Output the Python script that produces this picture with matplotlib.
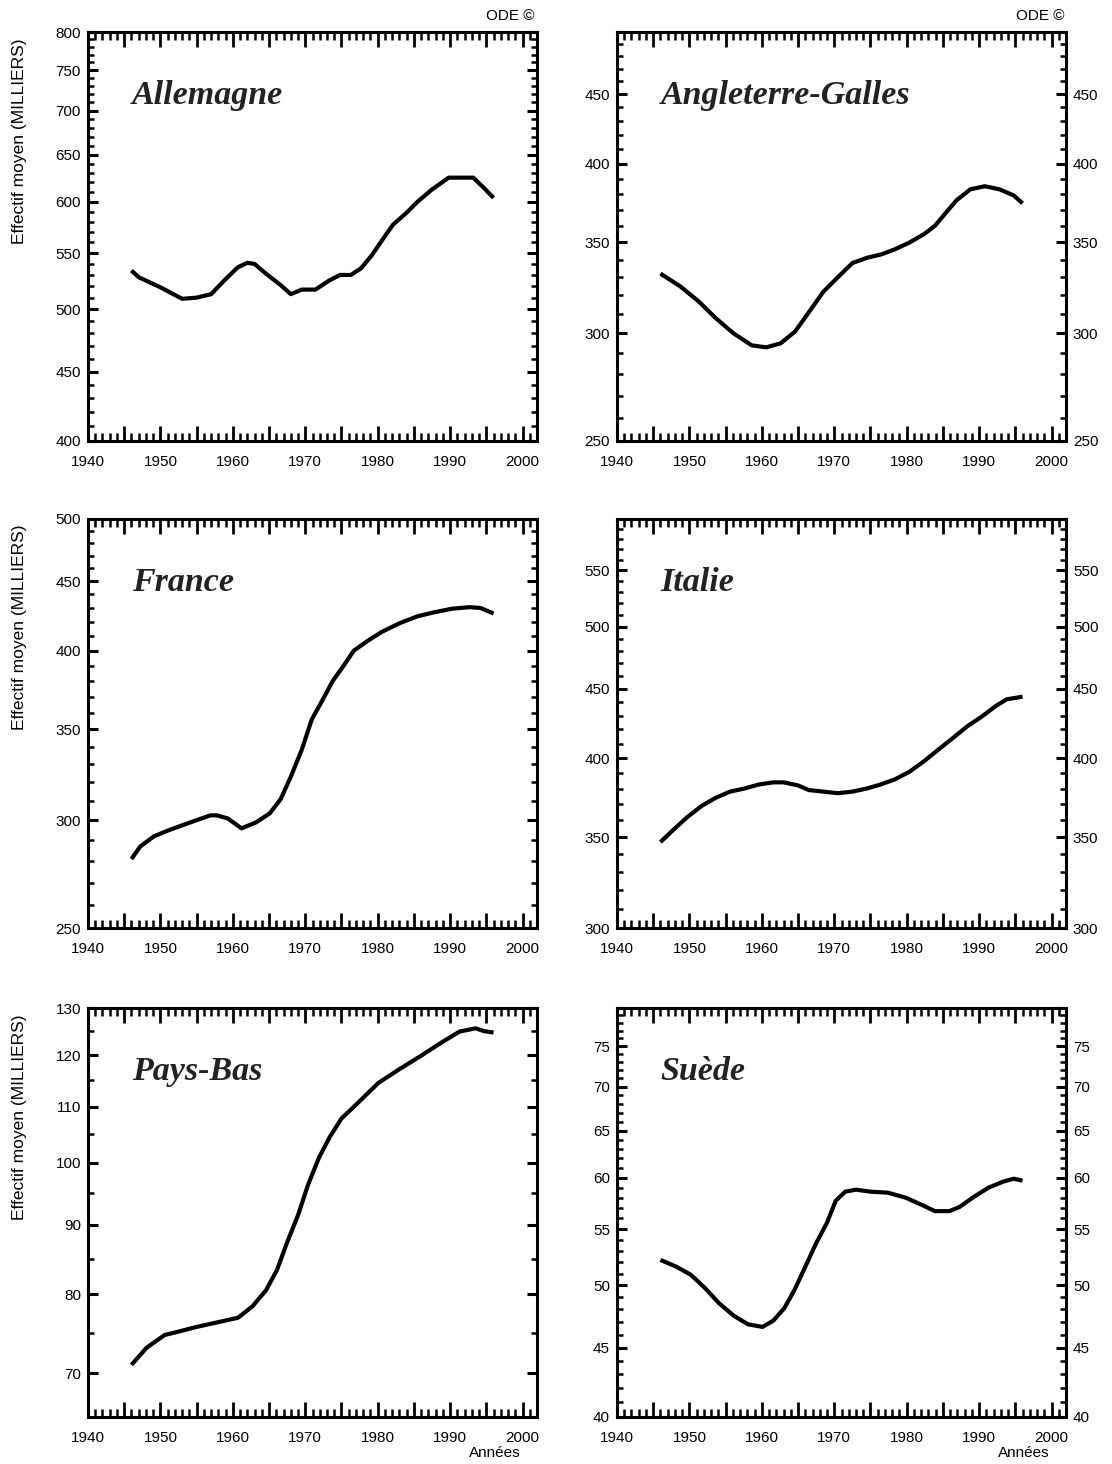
import matplotlib
matplotlib.use('Agg')
import matplotlib.pyplot as plt
from matplotlib.ticker import FixedLocator, FixedFormatter, NullFormatter

## Data (milliers, log scale)
allemagneYears  = [1946, 1947, 1950, 1953, 1955, 1957, 1958.8, 1960.7, 1962, 1963, 1964.6, 1966.6, 1968, 1969.5,
                   1971.4, 1973.3, 1974.8, 1976.3, 1977.7, 1979.2, 1980.6, 1982.1, 1984, 1985.5, 1987.4, 1989.8,
                   1991.8, 1993.2, 1994.7, 1996]
allemagneValues = [534, 528, 519, 509, 510, 513, 525, 537, 541, 540, 531, 521, 513, 517,
                   517, 525, 530, 530, 536, 548, 562, 577, 589, 600, 612, 625,
                   625, 625, 614, 604]

angleterreYears  = [1946, 1948.7, 1951.2, 1953.6, 1956.1, 1958.6, 1960.6, 1962.6, 1964.6, 1966.5, 1968.5, 1970.5,
                    1972.5, 1974.5, 1976.5, 1978.4, 1980.4, 1982.4, 1983.9, 1985.4, 1986.9, 1988.8, 1990.8, 1992.8,
                    1994.8, 1996]
angleterreValues = [332, 325, 317, 308, 300, 294, 293, 295, 301, 311, 322, 330,
                    338, 341, 343, 346, 350, 355, 360, 368, 376, 383, 385, 383,
                    379, 374]

franceYears  = [1946, 1947.2, 1949.1, 1951.1, 1953, 1954.9, 1956.9, 1957.8, 1959.3, 1961.2, 1963.2, 1965.1,
                1966.6, 1968, 1969.5, 1970.9, 1972.4, 1973.8, 1975.3, 1976.7, 1978.7, 1980.6, 1983, 1985.5,
                1987.9, 1990.3, 1992.7, 1994.2, 1996]
franceValues = [281, 287, 292, 295, 297.5, 300, 302.6, 302.6, 301, 296, 299, 303.6,
                311, 323, 338, 356, 368, 380, 390, 400, 407, 413, 419, 424,
                427, 429.5, 430.6, 430, 426]

italieYears  = [1946, 1947.7, 1949.7, 1951.7, 1953.6, 1955.6, 1957.6, 1959.6, 1961.6, 1963, 1965, 1966.5,
                1968.5, 1970.5, 1972.5, 1974.5, 1976.4, 1978.4, 1980.4, 1982.4, 1984.4, 1986.4, 1988.3, 1990.3,
                1992.3, 1993.8, 1996]
italieValues = [347, 354, 362, 369, 374, 378, 380, 382.6, 384, 384, 382, 379,
                378, 377, 378, 380, 382.6, 386, 391, 398, 406, 414, 422, 429,
                437, 442, 444]

paysBasYears  = [1946, 1948.1, 1950.6, 1952, 1954.9, 1957.8, 1960.7, 1962.7, 1964.6, 1966.1, 1967.5, 1969,
                 1970.4, 1971.9, 1973.4, 1975, 1977.2, 1980.1, 1983, 1986, 1988.9, 1991.3, 1993.5, 1994.7, 1996]
paysBasValues = [71.0, 73.1, 74.7, 75.0, 75.7, 76.3, 76.9, 78.4, 80.6, 83.4, 87.4, 91.5,
                 96.4, 100.9, 104.5, 107.8, 110.6, 114.5, 117.2, 119.9, 122.7, 124.9, 125.6, 125.0, 124.7]

suedeYears  = [1946, 1948.2, 1950.2, 1952.1, 1954.1, 1956.1, 1958.1, 1960.1, 1961.6, 1963.1, 1964.5, 1966,
               1967.5, 1969, 1970.2, 1971.5, 1973, 1975, 1977.4, 1979.9, 1982.4, 1983.9, 1985.9, 1987.3,
               1989.3, 1991.3, 1993.3, 1994.8, 1996]
suedeValues = [52.2, 51.6, 50.9, 49.8, 48.5, 47.5, 46.8, 46.6, 47.1, 48.1, 49.6, 51.6,
               53.7, 55.6, 57.7, 58.6, 58.8, 58.6, 58.5, 58.0, 57.2, 56.7, 56.7, 57.1,
               58.1, 59.0, 59.6, 59.9, 59.7]

# y axis limits, major ticks, labelled ticks and minor tick step for each panel
panels = [
    ('Allemagne',        allemagneYears,  allemagneValues,  (400, 800), list(range(400, 801, 50)), list(range(400, 801, 50)), 10),
    ('Angleterre-Galles', angleterreYears, angleterreValues, (250, 500), list(range(250, 501, 50)), list(range(250, 451, 50)), 10),
    ('France',           franceYears,     franceValues,     (250, 500), list(range(250, 501, 50)), list(range(250, 501, 50)), 10),
    ('Italie',           italieYears,     italieValues,     (300, 600), list(range(300, 601, 50)), list(range(300, 551, 50)), 10),
    ('Pays-Bas',         paysBasYears,    paysBasValues,    (65, 130),  list(range(70, 131, 10)),  list(range(70, 131, 10)),  5),
    ('Suède',            suedeYears,      suedeValues,      (40, 80),   list(range(40, 81, 5)),    list(range(40, 76, 5)),    1),
]

W, H = 1112, 1464
fig = plt.figure(figsize=(W / 100, H / 100), dpi=100)
plt.rcParams['font.family'] = ['Liberation Sans', 'DejaVu Sans']

# pixel boxes of the six frames
colLeft = [88, 617]
rowTop  = [32, 519, 1008]
boxW, boxH = 449, 409

for i, (name, years, values, ylim, majors, labelled, minorStep) in enumerate(panels):
    row, col = i // 2, i % 2
    left = colLeft[col] / W
    bottom = 1 - (rowTop[row] + boxH) / H
    ax = fig.add_axes([left, bottom, boxW / W, boxH / H])

    ax.plot(years, values, color='black', linewidth=3.0, solid_capstyle='butt')

    ax.set_yscale('log')
    ax.set_ylim(*ylim)
    ax.set_xlim(1940, 2002)

    # x axis: labels every 10, big ticks every 5, small every year
    ax.xaxis.set_major_locator(FixedLocator(list(range(1940, 2003, 5))))
    ax.xaxis.set_major_formatter(FixedFormatter([str(y) if y % 10 == 0 else '' for y in range(1940, 2003, 5)]))
    ax.xaxis.set_minor_locator(FixedLocator(list(range(1940, 2003, 1))))

    # y axis on log scale with linear tick values
    ax.yaxis.set_major_locator(FixedLocator(majors))
    ax.yaxis.set_major_formatter(FixedFormatter([str(v) if v in labelled else '' for v in majors]))
    minors = [v for v in range(ylim[0], ylim[1] + 1, minorStep) if v not in majors]
    ax.yaxis.set_minor_locator(FixedLocator(minors))
    ax.yaxis.set_minor_formatter(NullFormatter())

    ax.tick_params(axis='x', which='major', direction='in', length=11, width=2.0,
                   top=True, bottom=True, labelsize=11, pad=10)
    ax.tick_params(axis='x', which='minor', direction='in', length=5.5, width=1.8,
                   top=True, bottom=True)
    ax.tick_params(axis='y', which='major', direction='in', length=7.5, width=2.2,
                   left=True, right=True, labelsize=11, pad=5)
    ax.tick_params(axis='y', which='minor', direction='in', length=4.5, width=1.8,
                   left=True, right=True)
    if col == 1:
        ax.tick_params(axis='y', which='major', labelright=True)

    for spine in ax.spines.values():
        spine.set_linewidth(2.2)

    ax.text(0.097, 0.845, name, transform=ax.transAxes, va='center', ha='left',
            fontsize=24.5, fontweight='bold', fontstyle='italic', family='Liberation Serif',
            color='#222222')

    if col == 0:
        fig.text(20 / W, 1 - (rowTop[row] + 6) / H, 'Effectif moyen (MILLIERS)', rotation=90,
                 ha='center', va='top', fontsize=12.5)
    if row == 0:
        fig.text((colLeft[col] + boxW - 2) / W, 1 - 16 / H, 'ODE ©', ha='right', va='center', fontsize=11)
    if row == 2:
        fig.text((colLeft[col] + boxW - 42) / W, 1 - 1453 / H, 'Années', ha='center', va='center', fontsize=11)

fig.savefig('out.png', dpi=100, facecolor='white')
